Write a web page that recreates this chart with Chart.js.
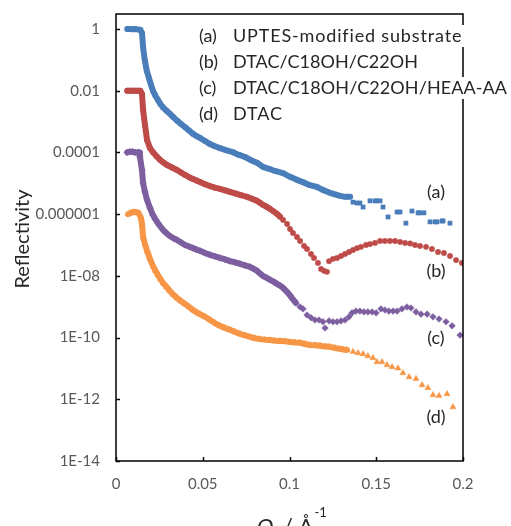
<!DOCTYPE html>
<html>
<head>
<meta charset="utf-8">
<script src="https://cdn.jsdelivr.net/npm/chart.js@4/dist/chart.umd.min.js"></script>
<style>
  html, body { margin: 0; padding: 0; background: #fff; }
  #wrap { width: 511px; height: 526px; position: relative; }
</style>
</head>
<body>
<div id="wrap"><canvas id="c"></canvas></div>
<script>
// ---------------- data ----------------
const seriesNames = ["UPTES-modified substrate", "DTAC/C18OH/C22OH", "DTAC/C18OH/C22OH/HEAA-AA", "DTAC"];
const seriesTags = ["(a)", "(b)", "(c)", "(d)"];

// (a) UPTES-modified substrate
const qA = [0.0065,0.0080,0.0095,0.0110,0.0125,0.0140,0.0150,0.0156,0.0164,0.0177,0.0190,0.0200,0.0213,0.0227,0.0242,0.0256,0.0271,0.0291,0.0311,0.0331,0.0352,0.0375,0.0398,0.0421,0.0444,0.0464,0.0484,0.0513,0.0542,0.0570,0.0599,0.0637,0.0674,0.0709,0.0744,0.0778,0.0813,0.0847,0.0882,0.0916,0.0963,0.1003,0.1043,0.1080,0.1118,0.1158,0.1195,0.1233,0.1262,0.1291,0.1320,0.1349,
  0.1366,0.1389,0.1406,0.1424,0.1464,0.1493,0.1504,0.1522,0.1539,0.1568,0.1620,0.1637,0.1671,0.1706,0.1741,0.1752,0.1775,0.1810,0.1839,0.1850,0.1879,0.1885,0.1925];
const rA = [1.0,1.0,0.98,1.0,0.97,0.95,0.74,0.263,0.115,4.47e-2,2.57e-2,1.66e-2,1.0e-2,6.9e-3,5.0e-3,3.7e-3,2.88e-3,2.24e-3,1.78e-3,1.38e-3,1.07e-3,8.3e-4,6.6e-4,5.1e-4,3.98e-4,3.39e-4,2.95e-4,2.34e-4,1.86e-4,1.58e-4,1.38e-4,1.17e-4,1.02e-4,8.3e-5,7.1e-5,5.6e-5,4.6e-5,3.4e-5,2.95e-5,2.51e-5,2.14e-5,1.62e-5,1.29e-5,1.07e-5,8.7e-6,7.6e-6,6.0e-6,4.9e-6,4.4e-6,3.9e-6,3.63e-6,3.63e-6,
  2.45e-6,2.29e-6,2.29e-6,1.70e-6,2.69e-6,2.69e-6,2.69e-6,2.69e-6,1.70e-6,8.1e-7,1.17e-6,1.17e-6,5.1e-7,1.26e-6,1.10e-6,1.10e-6,1.10e-6,5.6e-7,5.6e-7,5.6e-7,6.0e-7,6.0e-7,5.1e-7];

// (b) DTAC/C18OH/C22OH
const qB = [0.0065,0.0080,0.0095,0.0110,0.0125,0.0140,0.0150,0.0156,0.0167,0.0179,0.0196,0.0213,0.0233,0.0254,0.0274,0.0294,0.0323,0.0352,0.0375,0.0398,0.0421,0.0444,0.0464,0.0484,0.0513,0.0542,0.0570,0.0599,0.0628,0.0657,0.0686,0.0715,0.0755,0.0784,0.0813,0.0830,0.0847,0.0868,0.0888,0.0908,0.0928,0.0945,
  0.0963,0.0986,0.1003,0.1020,0.1043,0.1061,0.1084,0.1101,0.1124,0.1141,0.1164,0.1182,0.1199,0.1216,0.1228,0.1251,0.1274,0.1297,0.1320,0.1343,0.1366,0.1389,0.1412,0.1441,0.1464,0.1493,0.1522,0.1550,0.1579,0.1608,0.1637,0.1666,0.1695,0.1723,0.1752,0.1787,0.1821,0.1856,0.1890,0.1925,0.1960,0.1994];
const rB = [1.0e-2,1.0e-2,1.0e-2,1.0e-2,1.0e-2,1.0e-2,7.8e-3,2.4e-3,7.8e-4,2.51e-4,1.38e-4,1.02e-4,7.6e-5,5.75e-5,4.7e-5,3.9e-5,3.24e-5,2.69e-5,2.24e-5,1.86e-5,1.58e-5,1.38e-5,1.23e-5,1.10e-5,9.3e-6,8.1e-6,7.2e-6,6.6e-6,5.9e-6,5.25e-6,4.7e-6,4.2e-6,3.63e-6,3.16e-6,2.69e-6,2.34e-6,2.0e-6,1.74e-6,1.48e-6,1.23e-6,1.02e-6,8.3e-7,
  6.5e-7,4.8e-7,3.3e-7,2.45e-7,1.82e-7,1.35e-7,9.3e-8,7.4e-8,5.1e-8,3.8e-8,2.63e-8,1.66e-8,1.45e-8,1.35e-8,3.0e-8,3.55e-8,3.8e-8,4.4e-8,5.1e-8,5.9e-8,6.9e-8,7.9e-8,8.7e-8,1.0e-7,1.07e-7,1.17e-7,1.35e-7,1.35e-7,1.35e-7,1.35e-7,1.26e-7,1.17e-7,1.12e-7,1.0e-7,9.3e-8,8.7e-8,7.4e-8,5.9e-8,5.5e-8,4.4e-8,3.24e-8,2.63e-8];

// (c) DTAC/C18OH/C22OH/HEAA-AA
const qC = [0.0065,0.0080,0.0095,0.0110,0.0125,0.0133,0.0138,0.0150,0.0156,0.0167,0.0179,0.0196,0.0213,0.0227,0.0242,0.0256,0.0271,0.0291,0.0311,0.0331,0.0352,0.0375,0.0398,0.0421,0.0444,0.0464,0.0484,0.0513,0.0542,0.0570,0.0599,0.0628,0.0657,0.0686,0.0715,0.0744,0.0772,0.0793,0.0813,0.0830,0.0847,0.0868,0.0888,0.0908,0.0928,0.0946,0.0963,0.0977,0.0991,0.1003,0.1014,0.1026,0.1037,
  0.1061,0.1078,0.1101,0.1124,0.1147,0.1170,0.1193,0.1205,0.1228,0.1251,0.1274,0.1297,0.1320,0.1343,0.1360,0.1383,0.1406,0.1429,0.1452,0.1476,0.1499,0.1527,0.1550,0.1573,0.1597,0.1620,0.1648,0.1677,0.1700,0.1729,0.1758,0.1793,0.1827,0.1862,0.1902,0.1937,0.1983];
const rC = [1.0e-4,1.05e-4,1.05e-4,1.0e-4,1.0e-4,1.0e-4,7.1e-5,2.69e-5,1.02e-5,5.25e-6,2.88e-6,1.58e-6,9.3e-7,6.8e-7,5.1e-7,3.98e-7,3.09e-7,2.40e-7,1.95e-7,1.66e-7,1.45e-7,1.20e-7,1.0e-7,8.9e-8,7.9e-8,7.1e-8,6.5e-8,5.5e-8,4.8e-8,4.3e-8,3.8e-8,3.4e-8,3.0e-8,2.75e-8,2.45e-8,2.19e-8,1.95e-8,1.70e-8,1.45e-8,1.20e-8,1.0e-8,8.7e-9,7.4e-9,6.5e-9,5.5e-9,4.8e-9,4.1e-9,3.4e-9,2.82e-9,2.34e-9,1.91e-9,1.58e-9,1.32e-9,
  9.8e-10,8.5e-10,5.4e-10,4.4e-10,3.7e-10,3.7e-10,3.24e-10,2.04e-10,3.47e-10,3.24e-10,3.24e-10,3.47e-10,3.7e-10,4.7e-10,6.3e-10,7.2e-10,7.2e-10,6.8e-10,6.8e-10,6.8e-10,6.3e-10,8.5e-10,7.8e-10,7.2e-10,7.2e-10,7.2e-10,8.5e-10,9.8e-10,9.1e-10,6.8e-10,5.75e-10,5.75e-10,4.7e-10,3.98e-10,3.24e-10,2.4e-10,1.2e-10];

// (d) DTAC
const qD = [0.0070,0.0085,0.0100,0.0115,0.0130,0.0144,0.0150,0.0156,0.0167,0.0179,0.0196,0.0213,0.0227,0.0242,0.0256,0.0271,0.0291,0.0311,0.0331,0.0352,0.0375,0.0398,0.0421,0.0444,0.0464,0.0484,0.0513,0.0542,0.0570,0.0599,0.0628,0.0657,0.0686,0.0715,0.0744,0.0772,0.0801,0.0830,0.0859,0.0888,0.0916,0.0945,0.0974,0.1003,0.1032,0.1061,0.1090,0.1118,0.1147,0.1176,0.1205,0.1233,0.1262,0.1291,0.1311,0.1331,
  0.1366,0.1395,0.1424,0.1452,0.1481,0.1504,0.1533,0.1562,0.1591,0.1625,0.1654,0.1689,0.1729,0.1764,0.1798,0.1827,0.1862,0.1908,0.1942];
const rD = [1.0e-6,1.1e-6,1.17e-6,1.15e-6,1.1e-6,7.6e-7,4.8e-7,1.82e-7,1.07e-7,6.5e-8,3.55e-8,2.09e-8,1.48e-8,1.07e-8,7.9e-9,5.9e-9,4.4e-9,3.24e-9,2.45e-9,1.91e-9,1.51e-9,1.23e-9,9.8e-10,7.8e-10,6.6e-10,5.75e-10,4.7e-10,3.7e-10,2.95e-10,2.4e-10,2.04e-10,1.78e-10,1.51e-10,1.32e-10,1.17e-10,1.05e-10,9.5e-11,8.9e-11,8.5e-11,8.3e-11,7.9e-11,7.8e-11,7.6e-11,7.2e-11,6.9e-11,6.8e-11,6.2e-11,5.75e-11,5.6e-11,5.4e-11,5.1e-11,5.0e-11,4.6e-11,4.3e-11,4.1e-11,3.98e-11,
  3.47e-11,3.16e-11,2.95e-11,2.51e-11,2.19e-11,1.62e-11,1.62e-11,1.29e-11,1.12e-11,1.02e-11,7.1e-12,5.25e-12,4.6e-12,2.88e-12,2.34e-12,1.38e-12,1.29e-12,1.48e-12,5.6e-13];

// q up to which each measured series is dense enough to appear as a continuous band
const denseEnd = [0.135, 0.095, 0.104, 0.134];
// reflectivity level beside which each curve tag (a)-(d) sits
const tagLevels = [5.2e-6, 1.4e-8, 9.8e-11, 2.7e-13];

const yTickValues = [1, 1e-2, 1e-4, 1e-6, 1e-8, 1e-10, 1e-12, 1e-14];
const yTickLabels = ["1", "0.01", "0.0001", "0.000001", "1E-08", "1E-10", "1E-12", "1E-14"];
const xTickLabels = ["0", "0.05", "0.1", "0.15", "0.2"];

// ---------------- styles ----------------
const colors = ["#4A7EBB", "#BE4B48", "#7D5FA0", "#F79646"];
const shapes = ["rect", "circle", "rectRot", "triangle"];
const radii = [3.0, 2.7, 3.3, 3.5];
const FONT = "Lato, 'Open Sans', sans-serif";
const legendTargetW = [228, 185, 274, 49];

const qs = [qA, qB, qC, qD];
const rs = [rA, rB, rC, rD];

const datasets = qs.map((q, i) => ({
  label: seriesNames[i],
  data: q.map((x, k) => ({ x: x, y: rs[i][k] })),
  showLine: true,
  borderColor: colors[i],
  borderWidth: 6,
  borderCapStyle: 'round',
  borderJoinStyle: 'round',
  segment: {
    borderColor: ctx => (ctx.p1.parsed.x <= denseEnd[i] ? colors[i] : 'rgba(0,0,0,0)')
  },
  pointStyle: shapes[i],
  pointRadius: radii[i],
  pointBackgroundColor: colors[i],
  pointBorderColor: colors[i],
  pointBorderWidth: 0.5,
  tension: 0,
  order: i
}));

const decor = {
  id: 'decor',
  afterDatasetsDraw(chart) {
    const ctx = chart.ctx;
    const a = chart.chartArea;
    const xs = chart.scales.x, ys = chart.scales.y;
    ctx.save();
    // frame
    ctx.strokeStyle = '#000';
    ctx.lineWidth = 1.5;
    ctx.strokeRect(a.left, a.top, a.right - a.left, a.bottom - a.top);
    // inside tick marks
    ys.ticks.forEach(t => {
      const y = Math.round(ys.getPixelForValue(t.value)) + 0.5;
      ctx.beginPath(); ctx.moveTo(a.left, y); ctx.lineTo(a.left + 4, y); ctx.stroke();
    });
    xs.ticks.forEach(t => {
      const x = Math.round(xs.getPixelForValue(t.value)) + 0.5;
      ctx.beginPath(); ctx.moveTo(x, a.bottom); ctx.lineTo(x, a.bottom - 4); ctx.stroke();
    });
    // legend (text only, white background)
    ctx.font = "18px " + FONT;
    ctx.textBaseline = 'middle';
    ctx.textAlign = 'left';
    const legY = [36, 62, 88, 114];
    seriesNames.forEach((name, i) => {
      ctx.letterSpacing = '0px';
      const w0 = ctx.measureText(name).width;
      let sp = 0;
      if (legendTargetW[i] > w0 && name.length > 1) sp = (legendTargetW[i] - w0) / (name.length - 1);
      ctx.letterSpacing = sp.toFixed(2) + 'px';
      const w = ctx.measureText(name).width;
      ctx.fillStyle = '#fff';
      ctx.fillRect(231, legY[i] - 11, w + 4, 22);
      ctx.fillStyle = '#262626';
      ctx.fillText(name, 233, legY[i]);
      ctx.letterSpacing = '0px';
      ctx.fillText(seriesTags[i], 199, legY[i]);
    });
    // curve tags
    ctx.textAlign = 'center';
    seriesTags.forEach((t, i) => {
      ctx.fillText(t, 436, ys.getPixelForValue(tagLevels[i]));
    });
    // y title
    ctx.save();
    ctx.translate(23, 239);
    ctx.rotate(-Math.PI / 2);
    ctx.font = "20px " + FONT;
    ctx.fillStyle = '#262626';
    ctx.textAlign = 'center';
    ctx.fillText("Reflectivity", 0, 0);
    ctx.restore();
    // x title: Q_z / Å^-1
    ctx.textAlign = 'left';
    ctx.textBaseline = 'alphabetic';
    ctx.fillStyle = '#262626';
    let x = 257, base = 534;
    ctx.font = "italic 22px " + FONT;
    ctx.fillText("Q", x, base); x += ctx.measureText("Q").width;
    ctx.font = "italic 13px " + FONT;
    ctx.fillText("z", x, base + 5); x += ctx.measureText("z").width + 4;
    ctx.font = "22px " + FONT;
    ctx.fillText("/ Å", x, base); x += ctx.measureText("/ Å").width + 1;
    ctx.font = "13px " + FONT;
    ctx.fillText("-1", x, 517);
    ctx.restore();
  }
};

new Chart(document.getElementById('c'), {
  type: 'scatter',
  data: { datasets },
  options: {
    responsive: true,
    maintainAspectRatio: false,
    animation: false,
    layout: { padding: { left: 0, top: 14, right: 48, bottom: 0 } },
    plugins: { legend: { display: false }, tooltip: { enabled: false } },
    scales: {
      x: {
        type: 'linear', min: 0, max: 0.2,
        grid: { display: false, drawTicks: false },
        border: { display: false },
        afterBuildTicks: s => { s.ticks = xTickLabels.map(v => ({ value: parseFloat(v) })); },
        afterFit: s => { s.height = 65; s.paddingLeft = 0; s.paddingRight = 0; },
        ticks: {
          padding: 14,
          font: { family: FONT, size: 15 },
          color: '#595959',
          maxRotation: 0,
          callback: (v, i) => xTickLabels[i]
        }
      },
      y: {
        type: 'logarithmic', min: 1e-14, max: 3.06,
        grid: { display: false, drawTicks: false },
        border: { display: false },
        afterBuildTicks: s => { s.ticks = yTickValues.map(v => ({ value: v })); },
        afterFit: s => { s.width = 116; s.paddingTop = 0; s.paddingBottom = 0; },
        ticks: {
          padding: 16,
          font: { family: FONT, size: 15 },
          color: '#595959',
          callback: (v, i) => yTickLabels[i]
        }
      }
    }
  },
  plugins: [decor]
});
</script>
</body>
</html>
